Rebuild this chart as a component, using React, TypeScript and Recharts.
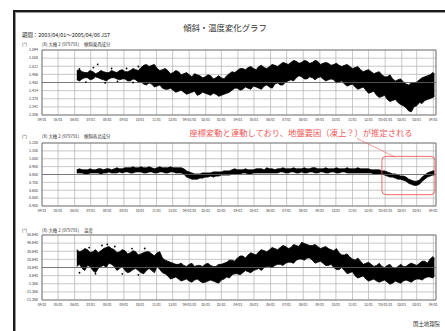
import React from 'react';
import { ComposedChart, Area, Scatter, XAxis, YAxis, CartesianGrid, ReferenceArea, ReferenceLine } from 'recharts';

const TITLE = '傾斜・温度変化グラフ';
const PERIOD = '期間：2003/04/01～2005/04/06 JST';
const STATION = '(X) 大檜 2 (979791)';
const UNIT = '(″)';
const PANEL_NAMES = ['傾斜東西成分', '傾斜南北成分', '温度'];
const NOTE = '座標変動と連動しており、地盤要因（凍上？）が推定される';
const CREDIT = '国土地理院';

// days since 2003/04/01
const MONTH_TICKS = [0, 30, 61, 91, 122, 153, 183, 214, 244, 275, 306, 335, 366, 396, 427, 457, 488, 519, 549, 580, 610, 641, 672, 700, 731];
const MONTH_LABELS = ['04/01', '05/01', '06/01', '07/01', '08/01', '09/01', '10/01', '11/01', '12/01', "'04/01/01", '02/01', '03/01', '04/01', '05/01', '06/01', '07/01', '08/01', '09/01', '10/01', '11/01', '12/01', "'05/01/01", '02/01', '03/01', '04/01'];
const X_END = 736;

const DAYS = [65, 75, 85, 95, 105, 115, 125, 135, 145, 155, 165, 175, 185, 195, 205, 215, 225, 235, 245, 255, 265, 275, 285, 295, 305, 315, 325, 335, 345, 355, 365, 375, 385, 395, 405, 415, 425, 435, 445, 455, 465, 475, 485, 495, 505, 515, 525, 535, 545, 555, 565, 575, 585, 595, 605, 615, 625, 635, 645, 655, 665, 675, 685, 695, 705, 715, 725, 733];
const MID_DAYS = [70, 80, 90, 100, 110, 120, 130, 140, 150, 160, 170, 180, 190, 200, 210, 220, 230, 240, 250, 260, 270, 280, 290, 300, 310, 320, 330, 340, 350, 360, 370, 380, 390, 400, 410, 420, 430, 440, 450, 460, 470, 480, 490, 500, 510, 520, 530, 540, 550, 560, 570, 580, 590, 600, 610, 620, 630, 640, 650, 660, 670, 680, 690, 700, 710, 720, 730];

// 傾斜東西成分
const EW_HI = [1.503, 1.498, 1.494, 1.498, 1.494, 1.498, 1.494, 1.498, 1.503, 1.498,
  1.503, 1.507, 1.516, 1.530, 1.526, 1.512, 1.507, 1.503, 1.494, 1.498,
  1.489, 1.484, 1.489, 1.480, 1.475, 1.480, 1.471, 1.471, 1.480, 1.498,
  1.503, 1.512, 1.516, 1.512, 1.521, 1.516, 1.521, 1.526, 1.530, 1.535,
  1.539, 1.544, 1.539, 1.544, 1.539, 1.544, 1.535, 1.535, 1.530, 1.526,
  1.526, 1.521, 1.516, 1.507, 1.503, 1.498, 1.494, 1.484, 1.475, 1.466,
  1.462, 1.452, 1.439, 1.448, 1.462, 1.475, 1.484, 1.489];
const EW_LO = [1.462, 1.466, 1.471, 1.466, 1.471, 1.462, 1.466, 1.471, 1.462, 1.466,
  1.457, 1.462, 1.452, 1.439, 1.443, 1.434, 1.425, 1.420, 1.416, 1.411,
  1.407, 1.402, 1.411, 1.398, 1.402, 1.393, 1.398, 1.393, 1.402, 1.416,
  1.425, 1.420, 1.425, 1.434, 1.425, 1.434, 1.430, 1.443, 1.439, 1.452,
  1.462, 1.471, 1.475, 1.466, 1.471, 1.471, 1.466, 1.462, 1.462, 1.452,
  1.443, 1.439, 1.430, 1.425, 1.416, 1.407, 1.393, 1.388, 1.375, 1.370,
  1.361, 1.347, 1.324, 1.343, 1.361, 1.370, 1.379, 1.388];
const EW_MID_HI = [1.507, 1.494, 1.503, 1.489, 1.503, 1.494, 1.503, 1.494, 1.507, 1.498,
  1.512, 1.503, 1.526, 1.521, 1.530, 1.503, 1.512, 1.489, 1.503, 1.484,
  1.494, 1.475, 1.484, 1.471, 1.484, 1.466, 1.480, 1.466, 1.489, 1.494,
  1.512, 1.507, 1.521, 1.507, 1.526, 1.512, 1.530, 1.521, 1.539, 1.530,
  1.548, 1.535, 1.548, 1.535, 1.548, 1.530, 1.539, 1.526, 1.535, 1.521,
  1.530, 1.512, 1.521, 1.498, 1.507, 1.489, 1.498, 1.475, 1.484, 1.457,
  1.466, 1.443, 1.448, 1.452, 1.471, 1.480, 1.494];
const EW_MID_LO = [1.457, 1.471, 1.462, 1.475, 1.466, 1.457, 1.471, 1.466, 1.466, 1.457,
  1.466, 1.452, 1.443, 1.448, 1.430, 1.439, 1.420, 1.425, 1.407, 1.416,
  1.398, 1.407, 1.393, 1.407, 1.398, 1.402, 1.389, 1.398, 1.407, 1.425,
  1.416, 1.430, 1.420, 1.430, 1.420, 1.439, 1.425, 1.448, 1.439, 1.457,
  1.457, 1.480, 1.466, 1.475, 1.462, 1.475, 1.457, 1.466, 1.448, 1.457,
  1.434, 1.443, 1.420, 1.430, 1.402, 1.411, 1.384, 1.393, 1.366, 1.375,
  1.352, 1.338, 1.320, 1.347, 1.357, 1.375, 1.384];

// 傾斜南北成分
const NS_HI = [0.859, 0.859, 0.859, 0.859, 0.872, 0.859, 0.872, 0.872, 0.872, 0.885,
  0.885, 0.885, 0.898, 0.885, 0.885, 0.885, 0.885, 0.885, 0.885, 0.885,
  0.872, 0.833, 0.807, 0.807, 0.820, 0.820, 0.833, 0.833, 0.846, 0.859,
  0.859, 0.859, 0.859, 0.859, 0.872, 0.859, 0.872, 0.859, 0.872, 0.872,
  0.872, 0.872, 0.872, 0.872, 0.885, 0.872, 0.872, 0.872, 0.872, 0.872,
  0.872, 0.872, 0.872, 0.872, 0.872, 0.859, 0.859, 0.846, 0.833, 0.807,
  0.793, 0.780, 0.741, 0.715, 0.728, 0.793, 0.833, 0.846];
const NS_LO = [0.820, 0.820, 0.807, 0.820, 0.820, 0.820, 0.833, 0.820, 0.833, 0.833,
  0.820, 0.833, 0.833, 0.820, 0.833, 0.820, 0.833, 0.820, 0.833, 0.820,
  0.807, 0.754, 0.741, 0.754, 0.767, 0.780, 0.780, 0.793, 0.793, 0.807,
  0.807, 0.820, 0.807, 0.820, 0.820, 0.820, 0.820, 0.820, 0.833, 0.820,
  0.833, 0.820, 0.833, 0.820, 0.833, 0.820, 0.833, 0.820, 0.833, 0.820,
  0.833, 0.820, 0.820, 0.820, 0.820, 0.820, 0.807, 0.807, 0.780, 0.767,
  0.741, 0.728, 0.689, 0.662, 0.675, 0.741, 0.780, 0.793];
const NS_MID_HI = [0.872, 0.859, 0.872, 0.859, 0.872, 0.872, 0.859, 0.885, 0.872, 0.885,
  0.898, 0.885, 0.885, 0.898, 0.872, 0.898, 0.885, 0.898, 0.885, 0.885,
  0.846, 0.820, 0.807, 0.820, 0.820, 0.833, 0.833, 0.846, 0.846, 0.872,
  0.859, 0.872, 0.859, 0.872, 0.872, 0.885, 0.872, 0.872, 0.885, 0.872,
  0.885, 0.872, 0.885, 0.872, 0.885, 0.872, 0.885, 0.872, 0.885, 0.872,
  0.885, 0.872, 0.885, 0.872, 0.872, 0.859, 0.859, 0.846, 0.820, 0.807,
  0.780, 0.767, 0.728, 0.715, 0.767, 0.820, 0.846];
const NS_MID_LO = [0.820, 0.807, 0.820, 0.820, 0.807, 0.820, 0.820, 0.820, 0.820, 0.833,
  0.820, 0.833, 0.820, 0.833, 0.820, 0.833, 0.820, 0.833, 0.820, 0.820,
  0.767, 0.741, 0.741, 0.754, 0.767, 0.767, 0.780, 0.793, 0.793, 0.807,
  0.807, 0.820, 0.807, 0.820, 0.820, 0.820, 0.820, 0.820, 0.833, 0.820,
  0.833, 0.820, 0.820, 0.833, 0.820, 0.833, 0.820, 0.833, 0.820, 0.833,
  0.820, 0.820, 0.820, 0.820, 0.820, 0.807, 0.807, 0.793, 0.767, 0.754,
  0.741, 0.715, 0.675, 0.662, 0.715, 0.767, 0.793];

// 温度
const TEMP_HI = [40.6, 39.3, 40.6, 38.0, 36.7, 41.9, 44.5, 40.6, 38.0, 39.3,
  36.7, 38.0, 35.4, 38.0, 35.4, 36.7, 30.3, 26.4, 23.8, 22.5,
  21.2, 22.5, 19.9, 21.2, 22.5, 21.2, 19.9, 22.5, 25.1, 27.7,
  30.3, 32.8, 34.1, 35.4, 38.0, 39.3, 40.6, 41.9, 43.2, 44.5,
  43.2, 45.7, 49.6, 47.0, 45.7, 44.5, 43.2, 41.9, 39.3, 36.7,
  34.1, 31.5, 27.7, 26.4, 23.8, 22.5, 21.2, 19.9, 21.2, 18.6,
  19.9, 19.9, 22.5, 22.5, 23.8, 26.4, 29.0, 30.3];
const TEMP_LO = [19.9, 17.4, 21.2, 14.8, 17.4, 21.2, 23.8, 19.9, 17.4, 14.8,
  13.5, 17.4, 12.2, 14.8, 14.8, 19.9, 12.2, 8.3, 5.7, 4.4,
  3.2, 1.9, 3.2, 1.9, 0.6, 3.2, 0.6, 3.2, 7.0, 9.6,
  10.9, 12.2, 13.5, 14.8, 17.4, 18.6, 19.9, 21.2, 22.5, 23.8,
  25.1, 27.7, 29.0, 30.3, 27.7, 25.1, 23.8, 21.2, 18.6, 16.1,
  14.8, 12.2, 8.3, 7.0, 4.4, 3.2, 1.9, 1.9, 0.6, -0.7,
  0.6, 1.9, 1.9, 3.2, 4.4, 5.7, 7.0, 8.3];
const TEMP_MID_HI = [38.0, 42.0, 37.0, 40.6, 39.3, 43.2, 41.9, 37.0, 40.6, 35.4,
  39.3, 34.1, 37.0, 38.0, 33.0, 38.0, 27.7, 25.1, 22.5, 24.0,
  19.9, 23.8, 21.2, 19.9, 23.8, 19.9, 22.5, 23.8, 27.7, 26.4,
  32.8, 30.3, 36.7, 34.1, 40.6, 38.0, 43.2, 40.6, 45.7, 42.0,
  46.9, 44.5, 48.3, 45.7, 47.0, 42.0, 44.5, 40.6, 41.9, 34.1,
  35.4, 29.0, 30.3, 22.5, 25.1, 20.0, 23.8, 18.6, 22.5, 17.4,
  22.5, 19.9, 24.0, 21.2, 26.4, 24.0, 32.0];
const TEMP_MID_LO = [22.5, 15.0, 19.9, 12.2, 20.0, 19.0, 22.5, 15.0, 19.9, 12.2,
  16.1, 14.8, 10.9, 17.4, 12.2, 16.1, 10.9, 4.4, 7.0, 2.0,
  4.4, 0.6, 4.4, 0.0, 2.0, 1.9, -0.7, 4.4, 5.7, 10.9,
  9.6, 14.8, 12.2, 16.1, 15.0, 20.0, 18.6, 22.5, 21.2, 25.1,
  23.8, 29.0, 27.7, 30.3, 24.0, 26.4, 21.2, 22.5, 16.1, 18.6,
  11.0, 13.5, 5.7, 8.3, 2.0, 4.4, 0.6, 3.2, -1.9, 1.9,
  -0.7, 3.2, 0.6, 4.4, 3.2, 7.0, 5.7];

// scattered outliers in the early (sparse) period
const EW_DOT_DAYS = [70, 82, 96, 104, 118, 130, 141, 158, 170, 180];
const EW_DOT_VALS = [1.510, 1.452, 1.516, 1.530, 1.448, 1.512, 1.455, 1.512, 1.450, 1.521];
const TEMP_DOT_DAYS = [70, 88, 100, 112, 122, 136, 150, 168, 180, 192];
const TEMP_DOT_VALS = [12.2, 43.2, 10.9, 45.7, 47.0, 44.5, 10.9, 41.9, 9.6, 42.0];

const EW_TICKS = [1.306, 1.342, 1.378, 1.414, 1.450, 1.486, 1.522, 1.558, 1.594];
const NS_TICKS = [0.4, 0.5, 0.6, 0.7, 0.8, 0.9, 1.0, 1.1, 1.2];
const TEMP_TICKS = [-21.36, -11.36, -1.36, 8.64, 18.64, 28.64, 38.64, 48.64, 58.64];

const ROWS = [
  ...DAYS.map((d, i) => ({ d, ew: [EW_LO[i], EW_HI[i]], ns: [NS_LO[i], NS_HI[i]], t: [TEMP_LO[i], TEMP_HI[i]] })),
  ...MID_DAYS.map((d, i) => ({ d, ew: [EW_MID_LO[i], EW_MID_HI[i]], ns: [NS_MID_LO[i], NS_MID_HI[i]], t: [TEMP_MID_LO[i], TEMP_MID_HI[i]] })),
].sort((a, b) => a.d - b.d);
const EW_DOTS = EW_DOT_DAYS.map((d, i) => ({ d, v: EW_DOT_VALS[i] }));
const TEMP_DOTS = TEMP_DOT_DAYS.map((d, i) => ({ d, v: TEMP_DOT_VALS[i] }));

const FONT = '"Noto Sans CJK JP", "Noto Sans", sans-serif';
const PLOT_LEFT = 42;
const PLOT_RIGHT = 436;
const W = 445;

type PanelProps = {
  plotTop: number;
  plotBottom: number;
  dataKey: string;
  ticks: number[];
  dots?: { d: number; v: number }[];
  children?: React.ReactNode;
};

function Panel({ plotTop, plotBottom, dataKey, ticks, dots, children }: PanelProps) {
  const mt = 5;
  const xh = 10;
  const h = plotBottom - plotTop + mt + xh;
  const lo = ticks[0];
  const hi = ticks[ticks.length - 1];
  const mid = ticks[4];
  return (
    <div style={{ position: 'absolute', left: 0, top: plotTop - mt }}>
      <ComposedChart width={W} height={h} data={ROWS} margin={{ top: mt, right: W - PLOT_RIGHT, bottom: 0, left: 12 }}>
        <CartesianGrid stroke="#b0b0b0" strokeWidth={0.7} />
        <XAxis
          type="number"
          dataKey="d"
          domain={[0, X_END]}
          ticks={MONTH_TICKS}
          interval={0}
          tickFormatter={(v: number) => MONTH_LABELS[MONTH_TICKS.indexOf(v)]}
          height={xh}
          tickSize={2}
          tickLine={false}
          axisLine={false}
          tick={{ fontSize: 3.3, fill: '#333', fontFamily: FONT }}
          allowDataOverflow
        />
        <YAxis
          type="number"
          domain={[lo, hi]}
          ticks={ticks}
          interval={0}
          width={PLOT_LEFT - 12}
          tickSize={2}
          tickLine={false}
          axisLine={false}
          tickFormatter={(v: number) => v.toFixed(3)}
          tick={{ fontSize: 3.6, fill: '#333', fontFamily: FONT }}
          allowDataOverflow
        />
        <ReferenceLine y={mid} stroke="#666" strokeWidth={0.8} />
        <Area
          type="linear"
          dataKey={dataKey}
          stroke="#000"
          strokeWidth={0.8}
          fill="#000"
          fillOpacity={1}
          dot={false}
          activeDot={false}
          isAnimationActive={false}
        />
        {dots ? (
          <Scatter data={dots} dataKey="v" fill="#000" isAnimationActive={false}
            shape={(p: any) => <circle cx={p.cx} cy={p.cy} r={0.9} fill="#000" />} />
        ) : null}
        <ReferenceArea x1={0} x2={X_END} y1={lo} y2={hi} fill="none" stroke="#777" strokeWidth={0.9} ifOverflow="visible" />
        {children}
      </ComposedChart>
    </div>
  );
}

export default function App() {
  return (
    <div style={{ position: 'absolute', left: 0, top: 0, width: W, height: 331, background: '#fff', overflow: 'hidden', fontFamily: FONT }}>
      <div style={{ position: 'absolute', left: 13, top: 10, width: 600, height: 600, borderLeft: '2px solid #1a1a1a', borderTop: '2px solid #1a1a1a' }} />
      <div style={{ position: 'absolute', left: 15, top: 12, width: 600, height: 600, borderLeft: '1px solid #999', borderTop: '1px solid #999' }} />

      <Panel plotTop={50} plotBottom={115} dataKey="ew" ticks={EW_TICKS} dots={EW_DOTS} />
      <Panel plotTop={143} plotBottom={206} dataKey="ns" ticks={NS_TICKS}>
        <ReferenceArea x1={635} x2={734} y1={0.544} y2={1.03} fill="none" stroke="#f05a5a" strokeWidth={0.9} radius={4} ifOverflow="visible" />
      </Panel>
      <Panel plotTop={235} plotBottom={300} dataKey="t" ticks={TEMP_TICKS} dots={TEMP_DOTS} />

      <svg width={W} height={331} style={{ position: 'absolute', left: 0, top: 0, pointerEvents: 'none' }}>
        <text x={225} y={31} fontSize={8.4} fill="#333" textAnchor="middle" fontFamily={FONT}>{TITLE}</text>
        <text x={22} y={37} fontSize={5.4} fill="#222" fontFamily={FONT}>{PERIOD}</text>

        <text x={22} y={46} fontSize={4.4} fill="#333" fontFamily={FONT}>{UNIT}</text>
        <text x={42} y={46} fontSize={4.4} fill="#333" fontFamily={FONT}>{STATION}</text>
        <text x={84} y={46} fontSize={4.4} fill="#333" fontFamily={FONT}>{PANEL_NAMES[0]}</text>

        <text x={22} y={137.5} fontSize={4.4} fill="#333" fontFamily={FONT}>{UNIT}</text>
        <text x={42} y={137.5} fontSize={4.4} fill="#333" fontFamily={FONT}>{STATION}</text>
        <text x={84} y={137.5} fontSize={4.4} fill="#333" fontFamily={FONT}>{PANEL_NAMES[1]}</text>

        <text x={22} y={231.5} fontSize={4.4} fill="#333" fontFamily={FONT}>{UNIT}</text>
        <text x={42} y={231.5} fontSize={4.4} fill="#333" fontFamily={FONT}>{STATION}</text>
        <text x={84} y={231.5} fontSize={4.4} fill="#333" fontFamily={FONT}>{PANEL_NAMES[2]}</text>

        <text x={301} y={136} fontSize={8.3} fill="#f05a5a" textAnchor="middle" fontFamily={FONT}>{NOTE}</text>
        <line x1={357} y1={138.5} x2={395} y2={157} stroke="#f05a5a" strokeWidth={0.6} />

        <text x={440} y={326} fontSize={5.4} fill="#333" textAnchor="end" fontFamily={FONT}>{CREDIT}</text>
      </svg>
    </div>
  );
}
